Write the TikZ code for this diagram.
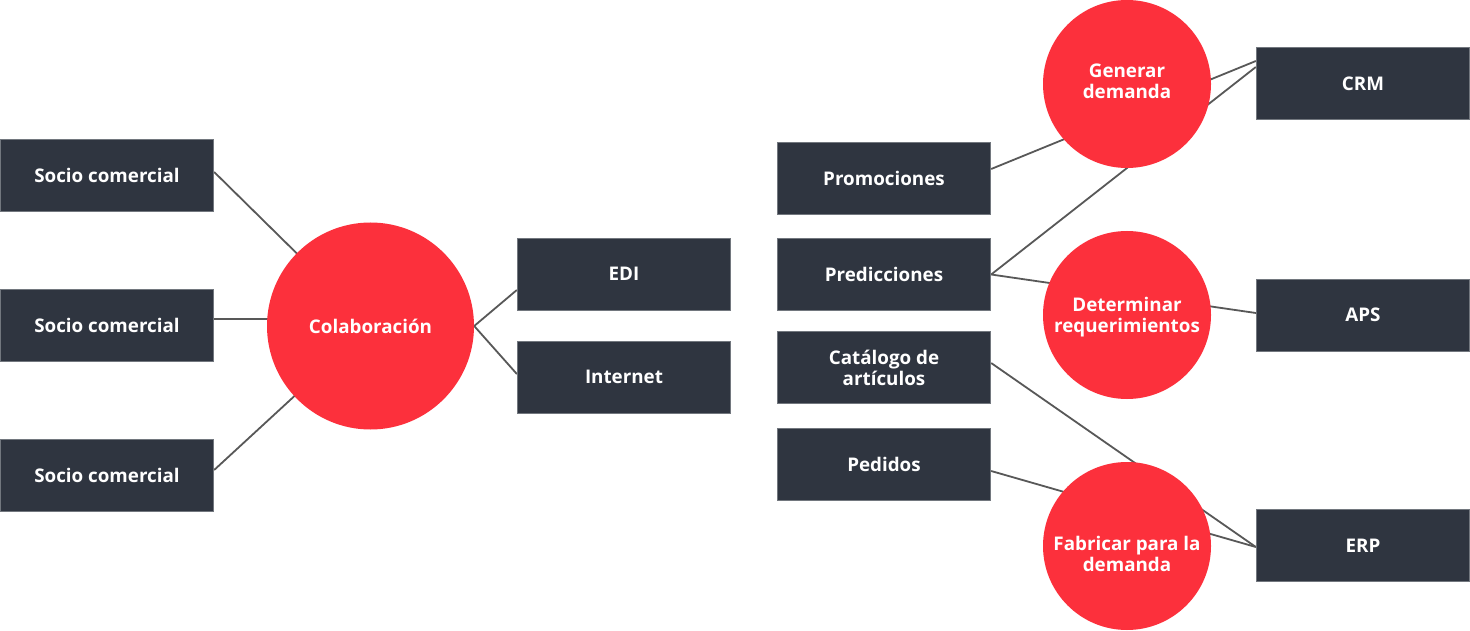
\documentclass[tikz,border=0pt]{standalone}
\usepackage{fontspec}
\setmainfont{Open Sans}
\usetikzlibrary{backgrounds}
\definecolor{boxc}{HTML}{2F3540}
\definecolor{redc}{HTML}{FC303C}
\definecolor{linec}{HTML}{585858}
\definecolor{edgec}{HTML}{72777E}
\newcommand{\shiftlines}[2]{\raisebox{#1}[\height][\depth]{\begin{tabular}{@{}c@{}}#2\end{tabular}}}
\begin{document}
\begin{tikzpicture}[x=1pt,y=-1pt,
  box/.style={rectangle, fill=boxc, draw=edgec, line width=0.8pt,
    minimum width=213.5pt, minimum height=72pt, inner sep=0pt,
    text=white, font=\bfseries\fontsize{18.8}{21}\selectfont, align=center},
  disc/.style={circle, fill=redc, minimum size=168pt, inner sep=0pt,
    text=white, font=\bfseries\fontsize{18.8}{21}\selectfont, align=center},
  conn/.style={draw=linec, line width=1.8pt}]
\useasboundingbox (0,0) rectangle (1470,631);

% left group
\node[box] (s1) at (107,175) {Socio comercial};
\node[box] (s2) at (107,325.5) {Socio comercial};
\node[box] (s3) at (107,475.5) {Socio comercial};
\node[disc, minimum size=207pt] (col) at (370.5,326) {Colaboración};
\node[box] (edi) at (624,274) {EDI};
\node[box] (inet) at (624,377) {Internet};

% right group
\node[box] (prom) at (884,178) {Promociones};
\node[box] (pred) at (884,274.5) {Predicciones};
\node[box] (cat) at (884,367.5) {Catálogo de\\artículos};
\node[box] (ped) at (884,464) {Pedidos};
\node[disc] (gen) at (1127,84) {\shiftlines{0pt}{Generar\\demanda}};
\node[disc] (det) at (1127,315) {\shiftlines{-3pt}{Determinar\\requerimientos}};
\node[disc] (fab) at (1127,546) {\shiftlines{-11pt}{Fabricar para la\\demanda}};
\node[box] (crm) at (1363,83.5) {CRM};
\node[box] (aps) at (1363,315) {APS};
\node[box] (erp) at (1363,545.5) {ERP};

\begin{pgfonlayer}{background}
\fill[white] (0,0) rectangle (1470,631);
\draw[conn] ([yshift=3pt]s1.east) -- (col.center);
\draw[conn] ([yshift=6.5pt]s2.east) -- ([yshift=6.5pt]s2.east -| col.center);
\draw[conn] ([yshift=5.5pt]s3.east) -- (col.center);
\draw[conn] ([yshift=-16pt]edi.west) -- (col.east) -- ([yshift=3pt]inet.west);
\draw[conn] ([yshift=9pt]prom.east) -- ([yshift=22.5pt]crm.west);
\draw[conn] (pred.east) -- ([yshift=16.5pt]crm.west);
\draw[conn] (pred.east) -- ([yshift=2pt]aps.west);
\draw[conn] ([yshift=4.5pt]cat.east) -- ([yshift=-1.5pt]erp.west);
\draw[conn] ([yshift=-7pt]ped.east) -- ([yshift=-1.5pt]erp.west);
\end{pgfonlayer}
\end{tikzpicture}
\end{document}
